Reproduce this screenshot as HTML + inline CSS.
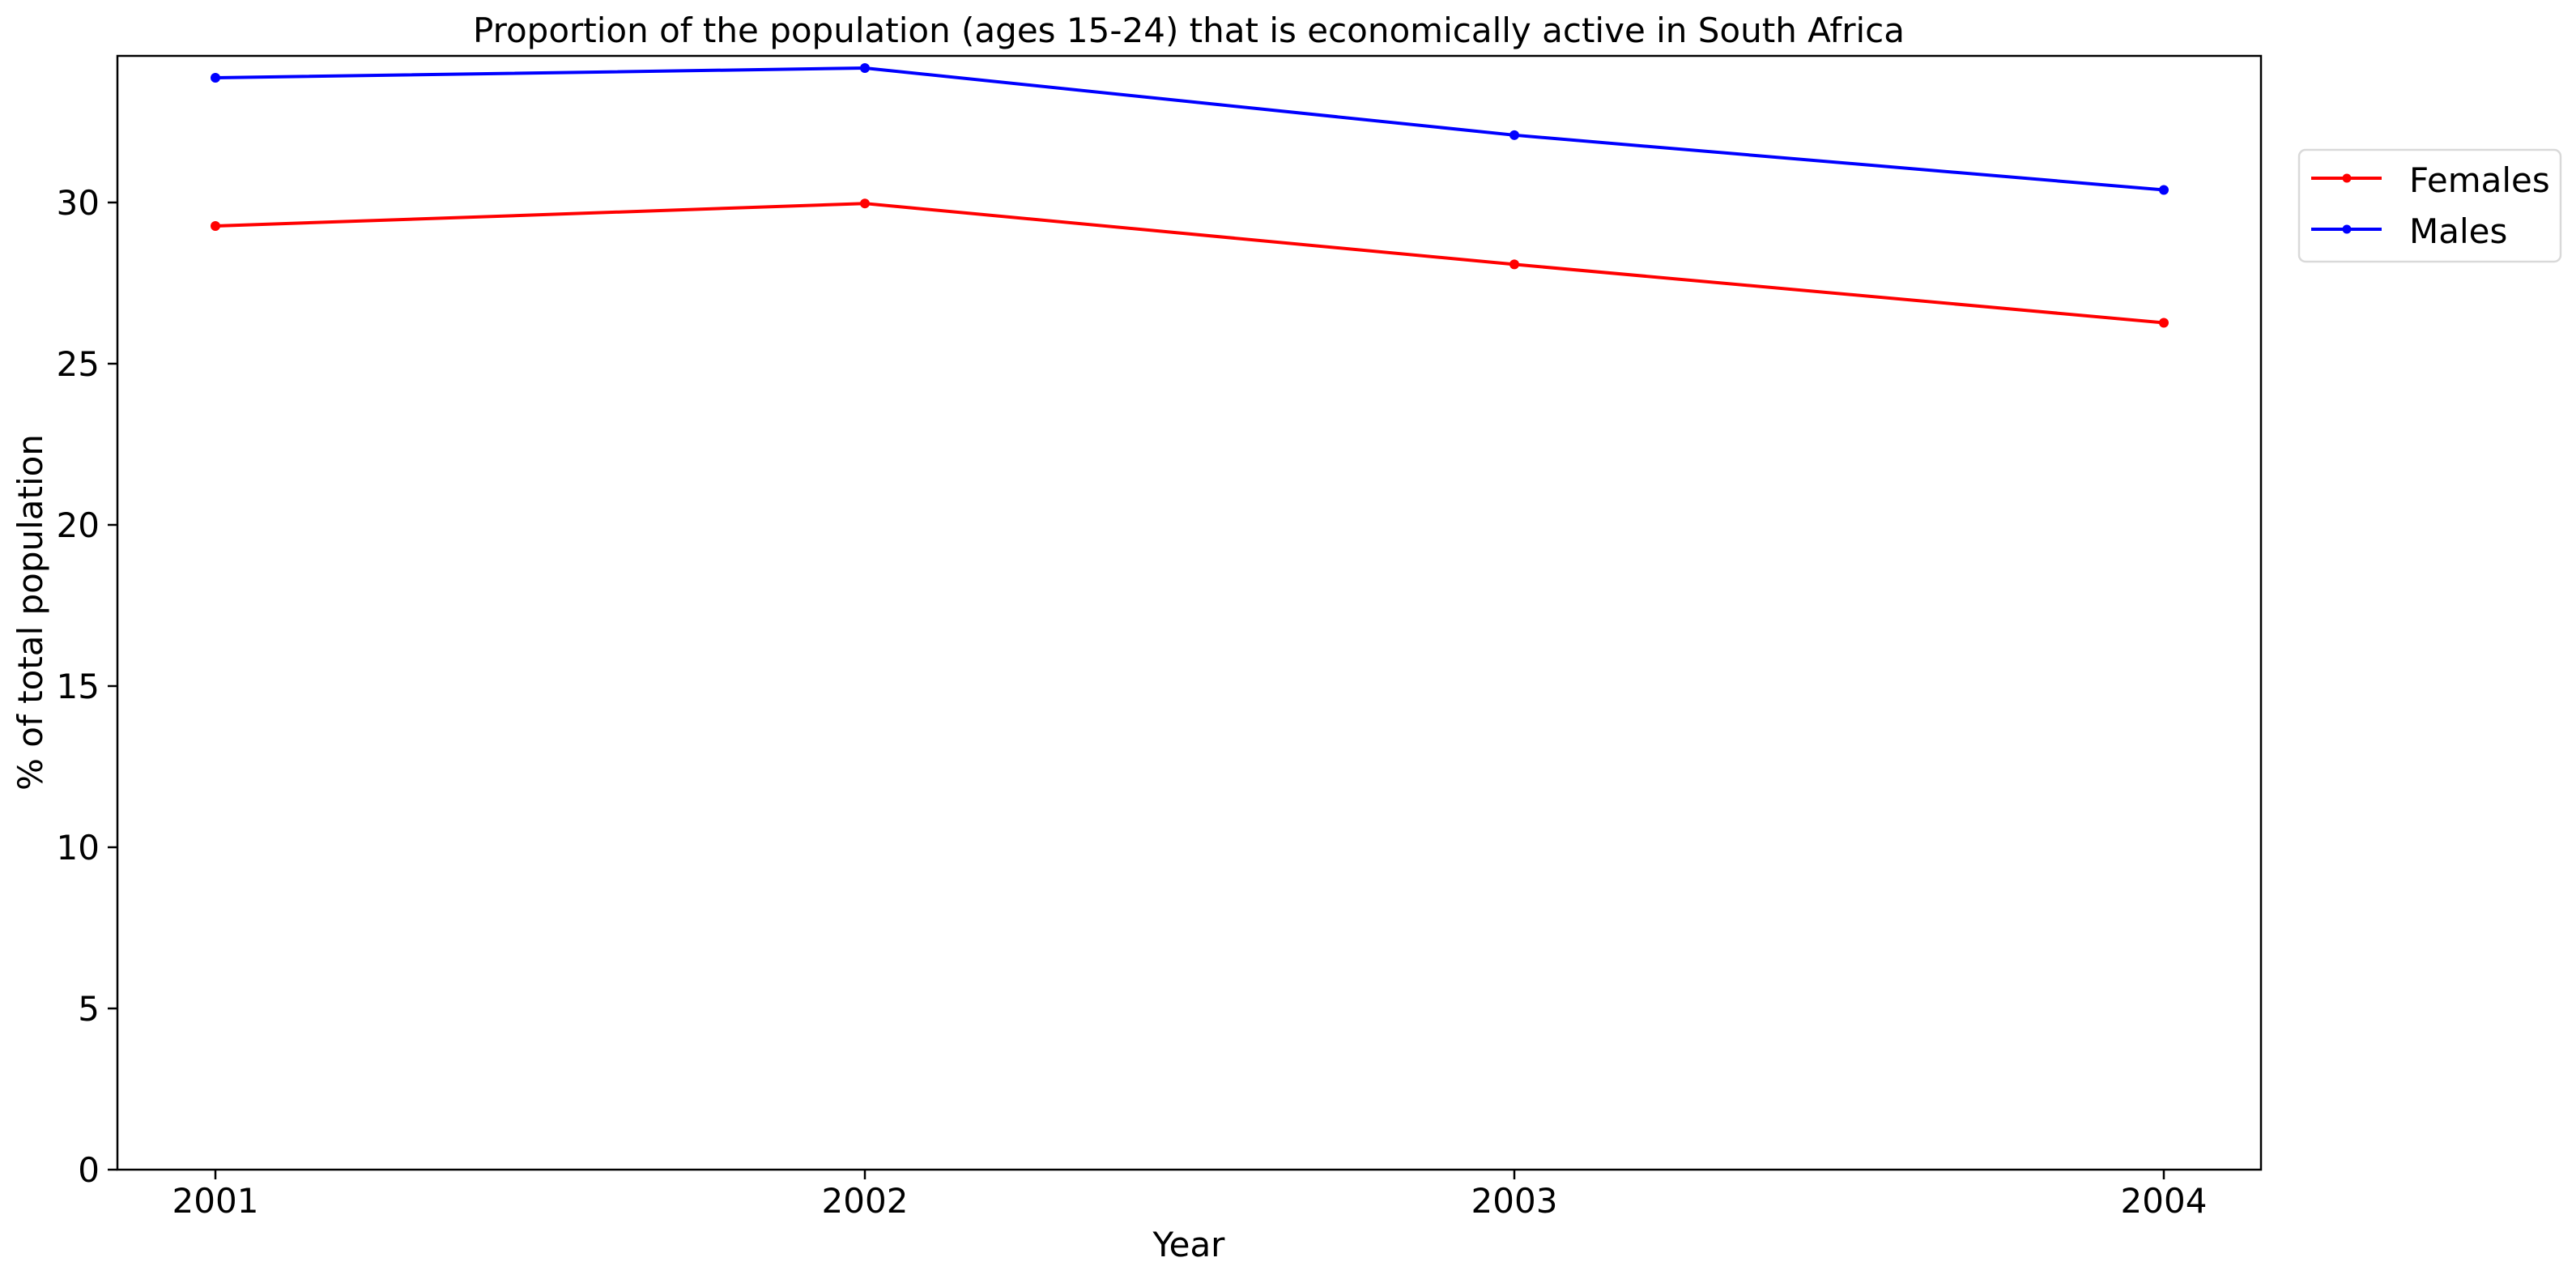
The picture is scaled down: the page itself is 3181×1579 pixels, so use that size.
<!DOCTYPE html>
<html><head><meta charset="utf-8"><style>
html,body{margin:0;padding:0;background:#fff;}
svg{display:block;font-family:"DejaVu Sans","Liberation Sans",sans-serif;}
</style></head><body>
<svg id="chart" width="3181" height="1579">
<rect width="3181" height="1579" fill="#fff"/>
<text x="1468" y="52" font-size="42" text-anchor="middle">Proportion of the population (ages 15-24) that is economically active in South Africa</text>
<g id="plot"></g>
<rect x="145" y="69" width="2647" height="1375" fill="none" stroke="#000" stroke-width="2.5"/>
<text x="1468" y="1551" font-size="42" text-anchor="middle">Year</text>
<text transform="translate(52,756) rotate(-90)" font-size="42" text-anchor="middle">% of total population</text>
<g>
<rect x="2839" y="185" width="323" height="138" rx="8" fill="#fff" stroke="#d9d9d9" stroke-width="2.5"/>
<line x1="2854" y1="220" x2="2941" y2="220" stroke="#ff0000" stroke-width="4"/>
<circle cx="2898" cy="220" r="5.5" fill="#ff0000"/>
<text x="2975" y="237" font-size="42">Females</text>
<line x1="2854" y1="283" x2="2941" y2="283" stroke="#0000ff" stroke-width="4"/>
<circle cx="2898" cy="283" r="5.5" fill="#0000ff"/>
<text x="2975" y="300" font-size="42">Males</text>
</g>
</svg>
<script>
const years = [2001, 2002, 2003, 2004];
const females = [29.27, 29.97, 28.08, 26.27];
const males = [33.87, 34.17, 32.09, 30.39];
const yTicks = [0, 5, 10, 15, 20, 25, 30];

const NS = "http://www.w3.org/2000/svg";
const L = 145, R = 2792, T = 69, B = 1444;
const x0 = 266, x1 = 2672;
function xs(v){ return x0 + (v - years[0]) / (years[years.length-1] - years[0]) * (x1 - x0); }
function ys(v){ return B - v * ((B - 250) / 30); }
const g = document.getElementById('plot');
function mk(tag, attrs){ const e = document.createElementNS(NS, tag); for (const k in attrs) e.setAttribute(k, attrs[k]); g.appendChild(e); return e; }

yTicks.forEach(t => {
  const y = ys(t);
  const tk = mk('line', {x1: L-12, y1: y, x2: L, y2: y, stroke: '#000', 'stroke-width': 2.5});
  
  
  const tx = mk('text', {x: L-22, y: y+15, 'font-size': 42, 'text-anchor': 'end'});
  tx.textContent = t;
  
  
});
years.forEach(yr => {
  const x = xs(yr);
  const tk = mk('line', {x1: x, y1: B, x2: x, y2: B+12, stroke: '#000', 'stroke-width': 2.5});
  
  
  const tx = mk('text', {x: x, y: 1497, 'font-size': 42, 'text-anchor': 'middle'});
  tx.textContent = yr;
  
  
});
function series(vals, color, name){
  const pts = vals.map((v, i) => xs(years[i]) + ',' + ys(v)).join(' ');
  const pl = mk('polyline', {points: pts, fill: 'none', stroke: color, 'stroke-width': 4});
  
  
  vals.forEach((v, i) => {
    const c = mk('circle', {cx: xs(years[i]), cy: ys(v), r: 6, fill: color});
    
    
  });
}
series(females, '#ff0000', 'females');
series(males, '#0000ff', 'males');
</script>
</body></html>
